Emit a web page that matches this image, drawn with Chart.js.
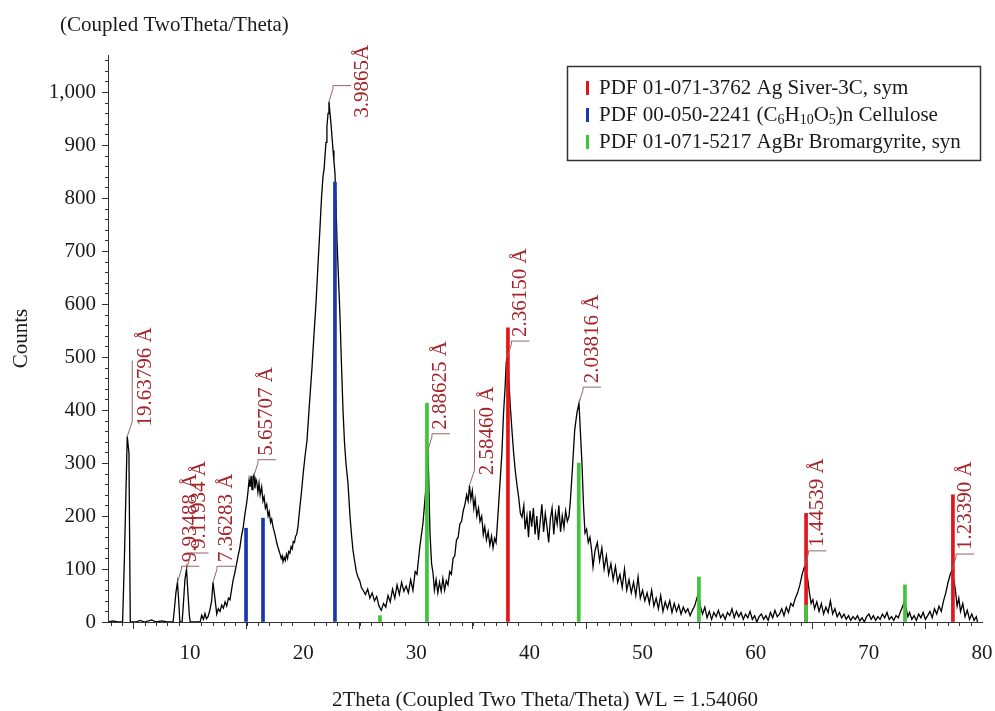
<!DOCTYPE html>
<html>
<head>
<meta charset="utf-8">
<title>XRD pattern</title>
<script src="https://cdn.jsdelivr.net/npm/chart.js@4.4.1/dist/chart.umd.min.js"></script>
<style>
    html, body { margin: 0; padding: 0; background: #fff; }
    canvas { display: block; }
</style>
</head>
<body>
<canvas id="xrd" width="995" height="711"></canvas>
<script>
// Measured scan, [2Theta (deg), counts]
const scanPoints = [
    [2.8, 0], [3.2, 2], [3.6, 0], [4.04, 0], [4.2, 120], [4.45, 350], [4.6, 320], [4.72, 0],
    [5.2, 0], [5.6, 3], [6.0, 0], [6.6, 4], [7.0, 0], [7.5, 2], [8.0, 0], [8.5, 0],
    [8.6, 20], [8.75, 55], [8.89, 75], [9.0, 40], [9.1, 0], [9.3, 0], [9.4, 30], [9.55, 80],
    [9.69, 100], [9.8, 60], [9.95, 10], [10.02, 0], [10.5, 0], [10.9, 0],
    [11.03, 13], [11.18, 5], [11.32, 16], [11.45, 6], [11.59, 10], [11.75, 22], [11.91, 40],
    [12.03, 75], [12.2, 45], [12.36, 15], [12.5, 25], [12.65, 20], [12.8, 32], [12.95, 26],
    [13.1, 38], [13.24, 30], [13.4, 45], [13.53, 42], [13.68, 62], [13.8, 78], [13.95, 92],
    [14.12, 110], [14.25, 125], [14.4, 140], [14.55, 162], [14.71, 180], [14.86, 205],
    [15.01, 225], [15.12, 245], [15.22, 268], [15.3, 255], [15.4, 276], [15.48, 250],
    [15.56, 274], [15.65, 278], [15.74, 252], [15.82, 270], [15.89, 266], [16.0, 245],
    [16.1, 262], [16.2, 240], [16.33, 255], [16.45, 228], [16.55, 236], [16.66, 215],
    [16.78, 222], [16.9, 200], [17.0, 208], [17.12, 188], [17.22, 194], [17.33, 180],
    [17.45, 170], [17.56, 160], [17.66, 150], [17.76, 142], [17.86, 135], [17.96, 128],
    [18.06, 120], [18.15, 125], [18.22, 114], [18.32, 122], [18.42, 116], [18.52, 128],
    [18.62, 120], [18.72, 133], [18.83, 130], [18.93, 142], [19.03, 138], [19.13, 152],
    [19.23, 150], [19.33, 162], [19.43, 165], [19.54, 180], [19.7, 215], [19.85, 245],
    [20.0, 280], [20.15, 310], [20.34, 343], [20.55, 410], [20.78, 480], [20.95, 540],
    [21.13, 600], [21.3, 670], [21.49, 745], [21.62, 800], [21.75, 840], [21.85, 855],
    [21.93, 880], [22.02, 905], [22.1, 935], [22.2, 960], [22.28, 982], [22.37, 960],
    [22.46, 940], [22.55, 915], [22.64, 890], [22.72, 870], [22.81, 847], [22.9, 790],
    [22.99, 720], [23.12, 650], [23.25, 580], [23.38, 490], [23.52, 400], [23.65, 340],
    [23.78, 300], [23.96, 262], [24.14, 200], [24.27, 165], [24.4, 136], [24.55, 115],
    [24.7, 95], [24.84, 85], [25.0, 78], [25.15, 65],
    [25.3, 60], [25.5, 52], [25.7, 62], [25.9, 45], [26.1, 55], [26.3, 40], [26.5, 48],
    [26.7, 30], [26.9, 22], [27.1, 35], [27.3, 28], [27.5, 50], [27.7, 38], [27.9, 62],
    [28.1, 45], [28.3, 70], [28.5, 52], [28.7, 75], [28.9, 58], [29.1, 68], [29.3, 55],
    [29.5, 80], [29.7, 60], [29.9, 95], [30.06, 90], [30.3, 140], [30.59, 187], [30.8, 240],
    [30.95, 290], [31.03, 325], [31.12, 250], [31.21, 168], [31.35, 110], [31.48, 92],
    [31.6, 60], [31.75, 80], [31.9, 55], [32.05, 75], [32.2, 58], [32.35, 82], [32.5, 60],
    [32.65, 78], [32.8, 70], [32.95, 95], [33.1, 90], [33.25, 120], [33.4, 125], [33.55, 155],
    [33.7, 160], [33.85, 185], [34.0, 190], [34.15, 210], [34.3, 222], [34.45, 240],
    [34.58, 228], [34.7, 258], [34.82, 232], [34.95, 248], [35.08, 215], [35.2, 232],
    [35.35, 200], [35.5, 215], [35.63, 190], [35.78, 200], [35.92, 165], [36.05, 180],
    [36.2, 155], [36.35, 170], [36.5, 145], [36.65, 162], [36.78, 140], [36.92, 158],
    [37.05, 150], [37.15, 180], [37.3, 230], [37.45, 280], [37.57, 320], [37.7, 390],
    [37.84, 440], [37.95, 490], [38.05, 500], [38.15, 470], [38.3, 410], [38.46, 360],
    [38.6, 320], [38.75, 285], [38.9, 258], [39.05, 235], [39.2, 205], [39.34, 198],
    [39.5, 220], [39.62, 175], [39.78, 200], [39.92, 160], [40.05, 210], [40.2, 180],
    [40.35, 215], [40.5, 165], [40.65, 200], [40.8, 155], [40.95, 190], [41.1, 222],
    [41.25, 170], [41.4, 205], [41.55, 180], [41.7, 150], [41.85, 195], [42.0, 215],
    [42.15, 165], [42.3, 205], [42.45, 185], [42.6, 220], [42.75, 170], [42.9, 200],
    [43.05, 178], [43.2, 210], [43.35, 190], [43.5, 200], [43.62, 230], [43.8, 290],
    [44.0, 362], [44.2, 395], [44.38, 413], [44.5, 360], [44.64, 300], [44.78, 220],
    [44.91, 168], [45.05, 175], [45.2, 150], [45.35, 160], [45.5, 135], [45.62, 104],
    [45.8, 135], [46.0, 150], [46.2, 115], [46.4, 140], [46.6, 100], [46.8, 125], [47.0, 90],
    [47.2, 110], [47.4, 80], [47.6, 105], [47.8, 75], [48.0, 90], [48.2, 65], [48.4, 100],
    [48.6, 60], [48.8, 80], [49.0, 55], [49.2, 75], [49.4, 50], [49.6, 85], [49.8, 45],
    [50.0, 60], [50.2, 40], [50.4, 55], [50.6, 35], [50.8, 60], [51.0, 30], [51.2, 45],
    [51.4, 25], [51.6, 50], [51.8, 20], [52.0, 38], [52.2, 25], [52.4, 40], [52.6, 18],
    [52.8, 35], [53.0, 20], [53.2, 32], [53.4, 15], [53.6, 28], [53.8, 18], [54.0, 25],
    [54.2, 12], [54.4, 22], [54.6, 30], [54.8, 45], [54.95, 55], [55.1, 30], [55.3, 15],
    [55.5, 28], [55.7, 8], [55.9, 20], [56.1, 5], [56.3, 18], [56.5, 10], [56.7, 22],
    [56.9, 8], [57.1, 15], [57.3, 5], [57.5, 18], [57.7, 12], [57.9, 25], [58.1, 8],
    [58.3, 20], [58.5, 10], [58.7, 18], [58.9, 5], [59.1, 15], [59.3, 8], [59.5, 20],
    [59.7, 5], [59.9, 12], [60.1, 0], [60.3, 10], [60.5, 15], [60.7, 5], [60.9, 12],
    [61.1, 3], [61.3, 18], [61.5, 8], [61.7, 22], [61.9, 10], [62.1, 15], [62.3, 25],
    [62.5, 12], [62.7, 28], [62.9, 18], [63.1, 35], [63.3, 30], [63.5, 45], [63.7, 55],
    [63.9, 70], [64.1, 90], [64.3, 104], [64.45, 95], [64.6, 80], [64.75, 55], [64.9, 35],
    [65.05, 42], [65.2, 25], [65.4, 38], [65.6, 20], [65.8, 35], [66.0, 15], [66.2, 28],
    [66.4, 18], [66.6, 40], [66.8, 15], [67.0, 25], [67.2, 10], [67.4, 18], [67.6, 8],
    [67.8, 15], [68.0, 5], [68.2, 12], [68.4, 3], [68.6, 10], [68.8, 5], [69.0, 12],
    [69.2, 2], [69.4, 8], [69.6, 0], [69.8, 10], [70.0, 15], [70.2, 5], [70.4, 12],
    [70.6, 3], [70.8, 10], [71.0, 5], [71.2, 15], [71.4, 8], [71.6, 18], [71.8, 5],
    [72.0, 10], [72.2, 3], [72.4, 12], [72.6, 8], [72.8, 20], [73.0, 30], [73.15, 40],
    [73.3, 25], [73.45, 10], [73.6, 18], [73.8, 5], [74.0, 12], [74.2, 3], [74.4, 15],
    [74.6, 8], [74.8, 18], [75.0, 5], [75.2, 12], [75.4, 20], [75.6, 8], [75.8, 25],
    [76.0, 15], [76.2, 30], [76.4, 20], [76.6, 40], [76.8, 55], [77.0, 75], [77.2, 90],
    [77.35, 98], [77.5, 80], [77.65, 60], [77.8, 30], [77.95, 45], [78.1, 20], [78.3, 35],
    [78.5, 10], [78.7, 22], [78.9, 5], [79.1, 15], [79.3, 3], [79.5, 10], [79.6, 0]
];

// Reference patterns (stick positions / heights)
const agTheta = [38.1, 64.45, 77.43];
const agCounts = [555, 205, 240];
const celluloseTheta = [14.95, 16.45, 22.81];
const celluloseCounts = [177, 196, 830];
const agbrTheta = [26.79, 30.94, 44.36, 54.98, 64.45, 73.19];
const agbrCounts = [12, 413, 300, 85, 32, 70];

// d-spacing labels on the peaks
const peakTheta = [4.45, 8.89, 9.69, 12.03, 15.65, 22.28, 31.03, 34.7, 38.05, 44.38, 64.3, 77.35];
const peakCounts = [350, 75, 100, 75, 276, 982, 325, 258, 500, 413, 104, 98];
const peakLabels = ['19.63796 Å', '9.93488 Å', '9.11934 Å', '7.36283 Å', '5.65707 Å', '3.9865Å',
    '2.88625 Å', '2.58460 Å', '2.36150 Å', '2.03816 Å', '1.44539 Å', '1.23390 Å'];

const legendLabels = ['PDF 01-071-3762 Ag Siver-3C, sym', 'PDF 00-050-2241 (C6H10O5)n Cellulose',
    'PDF 01-071-5217 AgBr Bromargyrite, syn'];

const chartTitle = '(Coupled TwoTheta/Theta)';
const xTitle = '2Theta (Coupled Two Theta/Theta) WL = 1.54060';
const yTitle = 'Counts';

const SERIF = "'Liberation Serif', 'Times New Roman', serif";
const colors = { ag: '#e3151b', cellulose: '#1a35b0', agbr: '#3fc43a' };

function toXY(xs, ys) {
    return xs.map((x, i) => ({ x: x, y: ys[i] }));
}

// Rotated d-spacing labels with their leader lines
function drawPeakLabel(ctx, px, py, text) {
    let tx, ty;
    ctx.beginPath();
    ctx.moveTo(px, py);
    if (text === '19.63796 Å' || text === '2.58460 Å') {
        ctx.lineTo(px + 5, py - 15);
        ctx.lineTo(px + 5, py - 76);
        tx = px + 18; ty = py - 10;
    } else {
        ctx.lineTo(px + 4, py - 13);
        ctx.lineTo(px + 4, py - 16);
        ctx.lineTo(px + 22, py - 16);
        tx = px + 13; ty = py - 20;
        if (text === '3.9865Å') { tx = px + 34; ty = py + 16; }
    }
    ctx.stroke();
    ctx.save();
    ctx.translate(tx, ty);
    ctx.rotate(-Math.PI / 2);
    ctx.textAlign = 'left';
    ctx.textBaseline = 'middle';
    ctx.fillText(text, 0, 0);
    ctx.restore();
}

// Writes a label, turning digits after a letter inside (...) into subscripts
function drawFormulaText(ctx, text, x, y) {
    const parts = text.split(/(\([^)]*\))/);
    parts.forEach(part => {
        if (part.startsWith('(')) {
            part.split(/(?<=[A-Za-z])(\d+)/).forEach((seg, i) => {
                if (i % 2 === 1) {
                    ctx.font = '14px ' + SERIF;
                    ctx.fillText(seg, x, y + 5);
                } else {
                    ctx.font = '21px ' + SERIF;
                    ctx.fillText(seg, x, y);
                }
                x += ctx.measureText(seg).width;
            });
        } else {
            ctx.font = '21px ' + SERIF;
            ctx.fillText(part, x, y);
            x += ctx.measureText(part).width;
        }
    });
}

const decor = {
    id: 'decor',
    afterDraw(chart) {
        const ctx = chart.ctx;
        const xs = chart.scales.x, ys = chart.scales.y;
        const area = chart.chartArea;
        ctx.save();

        // minor ticks
        ctx.strokeStyle = '#333';
        ctx.lineWidth = 1;
        ctx.beginPath();
        for (let v = 3; v <= 80; v++) {
            if (v % 10 === 0) continue;
            const p = Math.round(xs.getPixelForValue(v)) + 0.5;
            ctx.moveTo(p, area.bottom);
            ctx.lineTo(p, area.bottom + 4);
        }
        for (let v = 20; v <= 1060; v += 20) {
            if (v % 100 === 0) continue;
            const p = Math.round(ys.getPixelForValue(v)) + 0.5;
            ctx.moveTo(area.left - 3, p);
            ctx.lineTo(area.left, p);
        }
        ctx.stroke();

        // peak labels
        ctx.strokeStyle = '#946464';
        ctx.fillStyle = '#a3242a';
        ctx.font = '21px ' + SERIF;
        peakLabels.forEach((t, i) => {
            drawPeakLabel(ctx, xs.getPixelForValue(peakTheta[i]), ys.getPixelForValue(peakCounts[i]), t);
        });

        // legend box
        ctx.strokeStyle = '#333';
        ctx.lineWidth = 1.5;
        ctx.strokeRect(567.5, 66.5, 413, 94);
        const legendColors = [colors.ag, colors.cellulose, colors.agbr];
        ctx.textBaseline = 'middle';
        ctx.textAlign = 'left';
        legendLabels.forEach((t, i) => {
            const cy = 88 + i * 27;
            ctx.fillStyle = legendColors[i];
            ctx.fillRect(586, cy - 7, 3, 14);
            ctx.fillStyle = '#1a1a1a';
            drawFormulaText(ctx, t, 599, cy);
        });

        // top title
        ctx.font = '21px ' + SERIF;
        ctx.fillStyle = '#1a1a1a';
        ctx.fillText(chartTitle, 60, 25);
        ctx.restore();
    }
};

Chart.defaults.font.family = SERIF;
Chart.defaults.font.size = 21;
Chart.defaults.color = '#1a1a1a';

const stickOpts = { type: 'bar', barThickness: 3, grouped: false, borderWidth: 0 };

new Chart(document.getElementById('xrd').getContext('2d'), {
    type: 'line',
    data: {
        datasets: [
            {
                label: 'Scan',
                data: scanPoints.map(p => ({ x: p[0], y: p[1] })),
                borderColor: '#000',
                borderWidth: 1.3,
                pointRadius: 0,
                tension: 0,
                fill: false,
                order: 4
            },
            Object.assign({}, stickOpts, {
                label: legendLabels[0], data: toXY(agTheta, agCounts),
                backgroundColor: colors.ag, order: 3
            }),
            Object.assign({}, stickOpts, {
                label: legendLabels[1], data: toXY(celluloseTheta, celluloseCounts),
                backgroundColor: colors.cellulose, order: 2
            }),
            Object.assign({}, stickOpts, {
                label: legendLabels[2], data: toXY(agbrTheta, agbrCounts),
                backgroundColor: colors.agbr, order: 1
            })
        ]
    },
    options: {
        responsive: false,
        animation: false,
        layout: { padding: { top: 55, right: 13, left: 0, bottom: 0 } },
        plugins: {
            legend: { display: false },
            tooltip: { enabled: false },
            title: { display: false }
        },
        scales: {
            x: {
                type: 'linear',
                min: 2.75,
                max: 80,
                offset: false,
                ticks: { stepSize: 10, padding: 12, maxRotation: 0, color: '#1a1a1a' },
                grid: { drawOnChartArea: false, drawTicks: true, tickLength: 7, color: '#333' },
                border: { display: true, color: '#333', width: 1 },
                title: { display: true, text: xTitle, padding: { top: 0, bottom: -2 }, color: '#1a1a1a' },
                afterBuildTicks: s => { s.ticks = s.ticks.filter(t => t.value % 10 === 0 && t.value >= 10); },
                afterFit: s => { s.height = 89; s.paddingLeft = 0; s.paddingRight = 0; }
            },
            y: {
                min: 0,
                max: 1070,
                ticks: {
                    stepSize: 100, padding: 6, color: '#1a1a1a',
                    callback: v => v.toLocaleString('en-US')
                },
                grid: { drawOnChartArea: false, drawTicks: true, tickLength: 6, color: '#333' },
                border: { display: true, color: '#333', width: 1 },
                title: { display: true, text: yTitle, padding: { top: 9, bottom: 0 }, color: '#1a1a1a' },
                afterBuildTicks: s => { s.ticks = s.ticks.filter(t => t.value % 100 === 0); },
                afterFit: s => { s.width = 108; s.paddingTop = 0; s.paddingBottom = 0; }
            }
        }
    },
    plugins: [decor]
});
</script>
</body>
</html>
